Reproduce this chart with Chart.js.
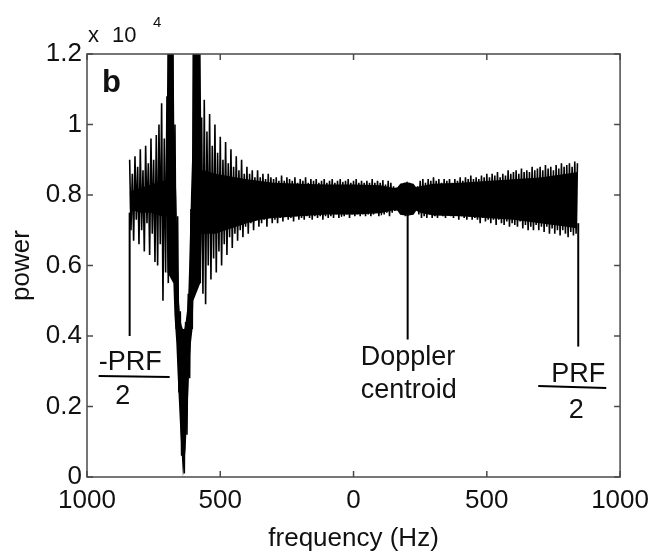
<!DOCTYPE html>
<html>
<head>
<meta charset="utf-8">
<script src="https://cdn.jsdelivr.net/npm/chart.js@4.4.1/dist/chart.umd.min.js"></script>
<style>
  html,body{margin:0;padding:0;background:#fff;}
  #c{display:block;}
</style>
</head>
<body>
<canvas id="c" width="657" height="554"></canvas>
<script>
// ===================== DATA =====================
// spectrum bins: first bin (Hz) and bin width (Hz)
const FREQ_START = -840;
const FREQ_STEP  = 5;
// power in units of 10^4, one value per bin
const power = [
  0.90,0.70,0.86,0.67,0.91,0.73,0.88,0.66,0.93,0.70,   // -840
  0.87,0.64,0.94,0.72,0.89,0.63,0.96,0.69,0.90,0.61,   // -790
  0.97,0.60,1.00,0.66,1.06,0.50,0.96,0.58,1.08,0.55,   // -740
  1.50,0.60,1.50,0.66,1.00,0.42,0.74,0.24,0.47,0.06,   // -690
  0.40,0.01,0.44,0.12,0.52,0.28,0.76,0.42,1.50,0.60,   // -640
  1.50,0.62,1.50,0.55,1.02,0.52,1.07,0.49,0.98,0.60,   // -590
  1.03,0.56,0.94,0.62,1.00,0.58,0.92,0.64,0.965,0.60,  // -540
  0.90,0.66,0.95,0.63,0.89,0.68,0.93,0.65,0.88,0.69,   // -490
  0.91,0.67,0.87,0.70,0.90,0.68,0.86,0.71,0.88,0.69,   // -440
  0.86,0.72,0.87,0.70,0.85,0.73,0.87,0.71,0.85,0.72,   // -390
  0.86,0.73,0.845,0.71,0.86,0.735,0.85,0.72,0.845,0.73,// -340
  0.85,0.72,0.84,0.735,0.855,0.725,0.84,0.74,0.85,0.73,// -290
  0.845,0.735,0.84,0.725,0.85,0.74,0.835,0.73,0.845,0.735, // -240
  0.84,0.73,0.85,0.74,0.835,0.735,0.845,0.73,0.84,0.74,    // -190
  0.845,0.735,0.835,0.74,0.84,0.73,0.845,0.74,0.835,0.735, // -140
  0.84,0.74,0.845,0.735,0.835,0.745,0.84,0.735,0.845,0.74, // -90
  0.835,0.74,0.84,0.745,0.845,0.735,0.835,0.745,0.84,0.74, // -40
  0.845,0.745,0.835,0.74,0.84,0.745,0.835,0.74,0.84,0.745, // 10
  0.835,0.74,0.845,0.745,0.835,0.75,0.84,0.74,0.835,0.745, // 60
  0.84,0.745,0.83,0.75,0.84,0.74,0.835,0.75,0.825,0.755,   // 110
  0.82,0.76,0.825,0.75,0.832,0.745,0.835,0.742,0.836,0.742,// 160
  0.835,0.745,0.83,0.75,0.822,0.758,0.825,0.745,0.84,0.735,// 210
  0.845,0.74,0.835,0.735,0.845,0.745,0.84,0.735,0.85,0.74, // 260
  0.84,0.735,0.845,0.745,0.835,0.74,0.845,0.735,0.84,0.745,// 310
  0.845,0.74,0.835,0.735,0.845,0.745,0.84,0.73,0.85,0.74,  // 360
  0.84,0.735,0.85,0.73,0.845,0.74,0.855,0.73,0.845,0.735,  // 410
  0.85,0.73,0.845,0.72,0.855,0.735,0.85,0.725,0.86,0.73,   // 460
  0.85,0.72,0.86,0.73,0.855,0.715,0.865,0.73,0.85,0.72,    // 510
  0.86,0.715,0.855,0.725,0.87,0.71,0.86,0.72,0.865,0.715,  // 560
  0.87,0.71,0.86,0.725,0.875,0.705,0.865,0.715,0.87,0.70,  // 610
  0.865,0.71,0.88,0.70,0.87,0.715,0.875,0.70,0.88,0.71,    // 660
  0.87,0.695,0.885,0.71,0.875,0.69,0.88,0.705,0.87,0.69,   // 710
  0.885,0.70,0.875,0.685,0.89,0.70,0.88,0.69,0.885,0.68,   // 760
  0.89,0.695,0.88,0.685,0.895,0.69,0.89                    // 810
];
const freqs = power.map((_, i) => FREQ_START + i * FREQ_STEP);

// solid black core of the trace (incl. the notch "V" and the Doppler blob)
const coreFreq   = [-840, -800, -760, -720, -702, -698, -676, -672, -665, -660, -655, -650, -645, -640, -635,
                    -630, -625, -620, -615, -610, -604, -601, -575, -570, -560, -520, -480, -440, -400, -350,
                    -300, -200, -100, 0, 100, 150, 165, 175, 200, 225, 235, 250, 300, 400, 500, 600, 700, 800, 840];
const coreTop    = [0.81, 0.82, 0.83, 0.84, 0.84, 1.3, 1.3, 0.95, 0.80, 0.64, 0.50, 0.45, 0.43, 0.42, 0.42,
                    0.44, 0.47, 0.52, 0.64, 0.80, 0.95, 1.3, 1.3, 0.87, 0.87, 0.86, 0.855, 0.85, 0.845, 0.84,
                    0.835, 0.832, 0.83, 0.83, 0.828, 0.82, 0.822, 0.832, 0.836, 0.832, 0.822, 0.825, 0.832, 0.835, 0.84, 0.845, 0.85, 0.86, 0.865];
const coreBottom = [0.76, 0.75, 0.75, 0.74, 0.74, 0.58, 0.55, 0.46, 0.38, 0.29, 0.21, 0.13, 0.07, 0.00, 0.04,
                    0.08, 0.16, 0.24, 0.33, 0.38, 0.42, 0.50, 0.55, 0.69, 0.69, 0.69, 0.70, 0.71, 0.72, 0.73,
                    0.735, 0.74, 0.745, 0.745, 0.748, 0.757, 0.755, 0.744, 0.741, 0.744, 0.755, 0.75, 0.742, 0.74, 0.735, 0.73, 0.72, 0.71, 0.705];

// marker lines: -PRF/2, Doppler centroid, PRF/2
const markerFreq = [-840, 203, 843];
const markerLow  = [0.40, 0.39, 0.37];
const markerHigh = [0.75, 0.76, 0.72];

const xTicks = [-1000, -500, 0, 500, 1000];
const yTicks = [0, 0.2, 0.4, 0.6, 0.8, 1, 1.2];

// ===================== CHART =====================
const FONT = 'Liberation Sans, Arial, Helvetica, sans-serif';
const INK = '#111';

const markerSets = markerFreq.map((f, i) => ({
  data: [{x: f, y: markerLow[i]}, {x: f, y: markerHigh[i]}],
  borderColor: '#000', borderWidth: 2, pointRadius: 0
}));

// matlab style box, inward ticks, and text annotations
const annot = {
  id: 'annot',
  afterDraw(chart){
    const {ctx, chartArea: a, scales: {x, y}} = chart;
    const line = (x1, y1, x2, y2) => { ctx.beginPath(); ctx.moveTo(x1, y1); ctx.lineTo(x2, y2); ctx.stroke(); };
    ctx.save();
    ctx.strokeStyle = '#4a4a4a'; ctx.lineWidth = 1.5;
    ctx.strokeRect(a.left, a.top, a.right - a.left, a.bottom - a.top);
    xTicks.forEach(v => { const p = x.getPixelForValue(v); line(p, a.bottom, p, a.bottom - 6); line(p, a.top, p, a.top + 6); });
    yTicks.forEach(v => { const p = y.getPixelForValue(v); line(a.left, p, a.left + 6, p); line(a.right, p, a.right - 6, p); });

    ctx.fillStyle = INK; ctx.textBaseline = 'alphabetic'; ctx.textAlign = 'left';
    // exponent
    ctx.font = '22px ' + FONT;
    ctx.fillText('x', a.left + 1, a.top - 12);
    ctx.fillText('10', a.left + 25, a.top - 12);
    ctx.font = '15px ' + FONT; ctx.fillText('4', a.left + 66, a.top - 27);
    // panel letter
    ctx.font = 'bold 31px ' + FONT; ctx.fillText('b', a.left + 15, a.top + 38);

    ctx.font = '27px ' + FONT;
    ctx.strokeStyle = '#000'; ctx.lineWidth = 2;
    // -PRF/2
    const xl = x.getPixelForValue(markerFreq[0]);
    ctx.fillText('-PRF', xl - 31, 370);
    line(xl - 31, 376, xl + 40, 377);
    ctx.textAlign = 'center'; ctx.fillText('2', xl - 7, 404);
    // Doppler centroid
    const xd = x.getPixelForValue(markerFreq[1]);
    ctx.textAlign = 'left';
    ctx.fillText('Doppler', xd - 47, 365);
    ctx.fillText('centroid', xd - 47, 398);
    // PRF/2
    const xr = x.getPixelForValue(markerFreq[2]);
    ctx.fillText('PRF', xr - 27, 382);
    line(xr - 40, 386, xr + 28, 388);
    ctx.textAlign = 'center'; ctx.fillText('2', xr - 2, 418);
    ctx.restore();
  }
};

Chart.defaults.font.family = FONT;
Chart.defaults.color = INK;

new Chart(document.getElementById('c'), {
  type: 'line',
  data: {
    datasets: [{
      data: freqs.map((f, i) => ({x: f, y: power[i]})),
      // tiny tension keeps Chart.js off its min/max fast path so every stroke is drawn
      borderColor: '#000', borderWidth: 1.6, pointRadius: 0, tension: 0.0001
    }, {
      data: coreFreq.map((f, i) => ({x: f, y: coreTop[i]})),
      borderWidth: 0, pointRadius: 0, fill: '+1', backgroundColor: '#000'
    }, {
      data: coreFreq.map((f, i) => ({x: f, y: coreBottom[i]})),
      borderWidth: 0, pointRadius: 0
    }, ...markerSets]
  },
  options: {
    responsive: false, animation: false, devicePixelRatio: 1,
    parsing: false,
    layout: {padding: {left: 0, top: 54, right: 33, bottom: 0}},
    plugins: {legend: {display: false}, tooltip: {enabled: false}},
    scales: {
      x: {
        type: 'linear', min: -1000, max: 1000,
        afterBuildTicks: s => { s.ticks = xTicks.map(v => ({value: v})); },
        afterFit: s => { s.height = 77; },
        ticks: {callback: v => Math.abs(v), font: {size: 26}, color: INK, padding: 8, maxRotation: 0, autoSkip: false},
        grid: {display: false, drawTicks: false},
        border: {display: false},
        title: {display: true, text: 'frequency (Hz)', font: {size: 26}, color: INK, padding: 0}
      },
      y: {
        min: 0, max: 1.2,
        afterBuildTicks: s => { s.ticks = yTicks.map(v => ({value: v})); },
        afterFit: s => { s.width = 87; },
        ticks: {callback: v => (v === 0 || v === 1) ? String(v) : v.toFixed(1), font: {size: 26}, color: INK, padding: 5},
        grid: {display: false, drawTicks: false},
        border: {display: false},
        title: {display: true, text: 'power', font: {size: 26}, color: INK, padding: 6}
      }
    }
  },
  plugins: [annot]
});
</script>
</body>
</html>
